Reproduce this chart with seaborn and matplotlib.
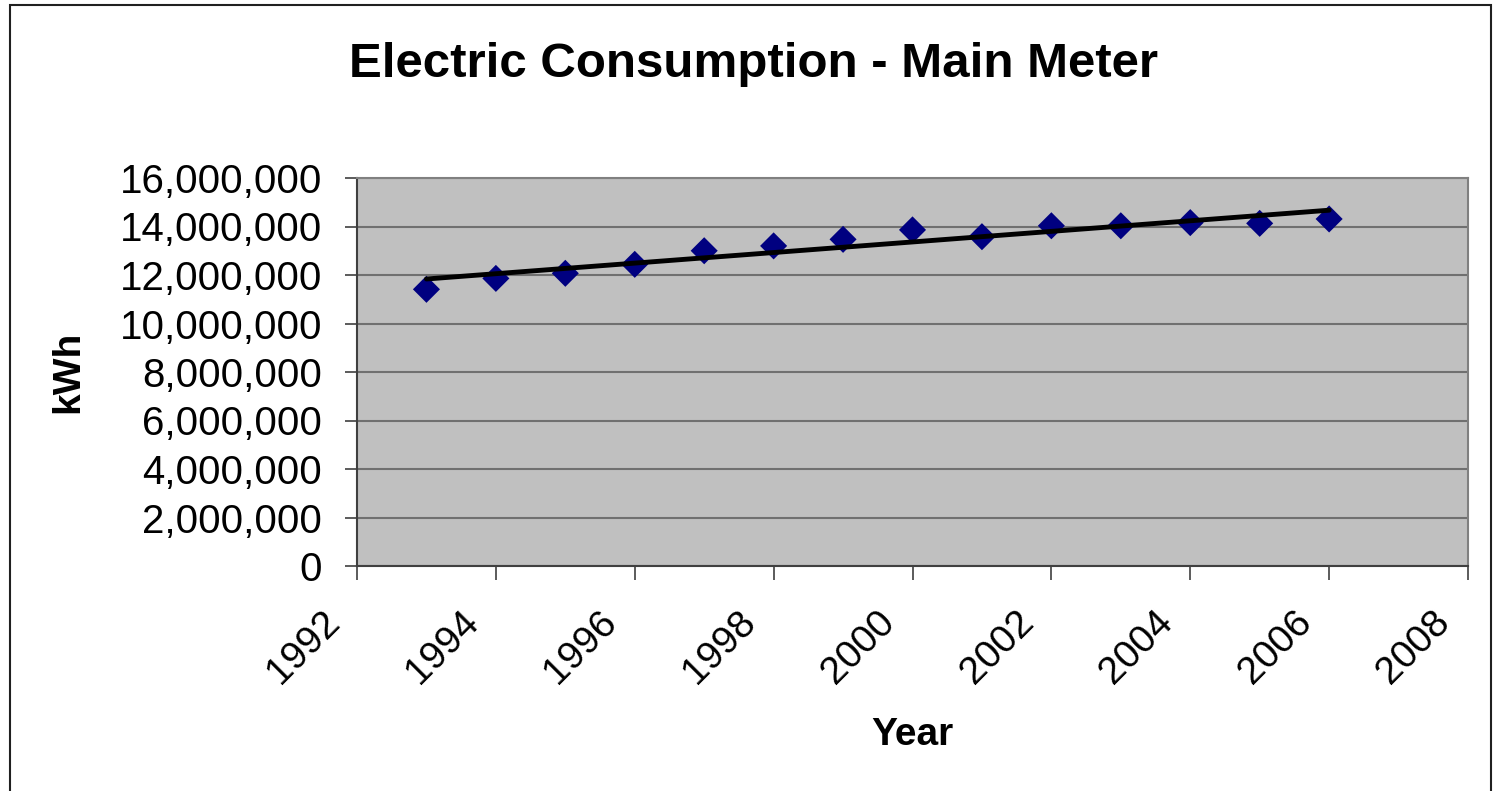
import numpy as np
import pandas as pd
import seaborn as sns
import matplotlib.pyplot as plt
from matplotlib import patches, ticker, transforms

years = [1993, 1994, 1995, 1996, 1997, 1998, 1999, 2000, 2001, 2002, 2003, 2004, 2005, 2006]
kwh = [11410000, 11860000, 12070000, 12440000, 13000000, 13200000, 13470000,
       13860000, 13580000, 14030000, 14030000, 14160000, 14130000, 14310000]
x_ticks = [1992, 1994, 1996, 1998, 2000, 2002, 2004, 2006, 2008]
y_ticks = list(range(0, 16000001, 2000000))

df = pd.DataFrame({"Year": years, "kWh": kwh})

sns.set_theme(style="white")
plt.rcParams['font.family'] = ['Liberation Sans', 'DejaVu Sans']
plt.rcParams.update({'text.color': 'black', 'axes.labelcolor': 'black',
                     'xtick.color': 'black', 'ytick.color': 'black'})

fig = plt.figure(figsize=(14.95, 7.91), dpi=100)
ax = fig.add_axes([357 / 1495, 1 - 566 / 791, (1468 - 357) / 1495, (566 - 178) / 791])
ax.set_facecolor('#c0c0c0')

sns.regplot(data=df, x="Year", y="kWh", ax=ax, ci=None, truncate=True,
            marker='D', color='#000080',
            scatter_kws={'s': 190, 'color': '#000080', 'alpha': 1,
                         'edgecolors': 'none', 'zorder': 3},
            line_kws={'color': 'black', 'linewidth': 3.5, 'zorder': 4})

ax.set_xlim(1992, 2008)
ax.set_ylim(0, 16000000)
ax.set_xticks(x_ticks)
ax.set_yticks(y_ticks)
ax.yaxis.set_major_formatter(ticker.FuncFormatter(lambda v, p: f"{int(v):,}"))
ax.grid(axis='y', color='#707070', linewidth=1.5)
ax.grid(axis='x', visible=False)
ax.set_axisbelow(True)

for s in ax.spines.values():
    s.set_color('#808080')
    s.set_linewidth(1.5)
ax.spines['left'].set_color('#404040')
ax.spines['bottom'].set_color('#404040')

ax.tick_params(axis='y', which='major', direction='out', length=9, width=1.2,
               color='#404040', labelsize=29, pad=16, left=True)
ax.tick_params(axis='x', which='major', direction='out', length=10, width=1.2,
               color='#404040', labelsize=28, pad=8, bottom=True)
shift = transforms.ScaledTranslation(-36 / 100, -13 / 100, fig.dpi_scale_trans)
for lab in ax.get_xticklabels():
    lab.set_rotation(45)
    lab.set_ha('right')
    lab.set_rotation_mode('anchor')
    lab.set_transform(lab.get_transform() + shift)

ax.set_xlabel('Year', fontsize=28, fontweight='bold', labelpad=19)
ax.set_ylabel('kWh', fontsize=28, fontweight='bold', labelpad=24)
fig.text(0.504, 0.918, 'Electric Consumption - Main Meter', ha='center', va='center',
         fontsize=35.5, fontweight='bold')

fig.patches.append(patches.Rectangle((10 / 1495, -0.01), (1491 - 10) / 1495, 1 - 5 / 791 + 0.01,
                                     transform=fig.transFigure, fill=False,
                                     edgecolor='#202020', linewidth=1.5))

fig.savefig('out.png', dpi=100)
plt.close(fig)
